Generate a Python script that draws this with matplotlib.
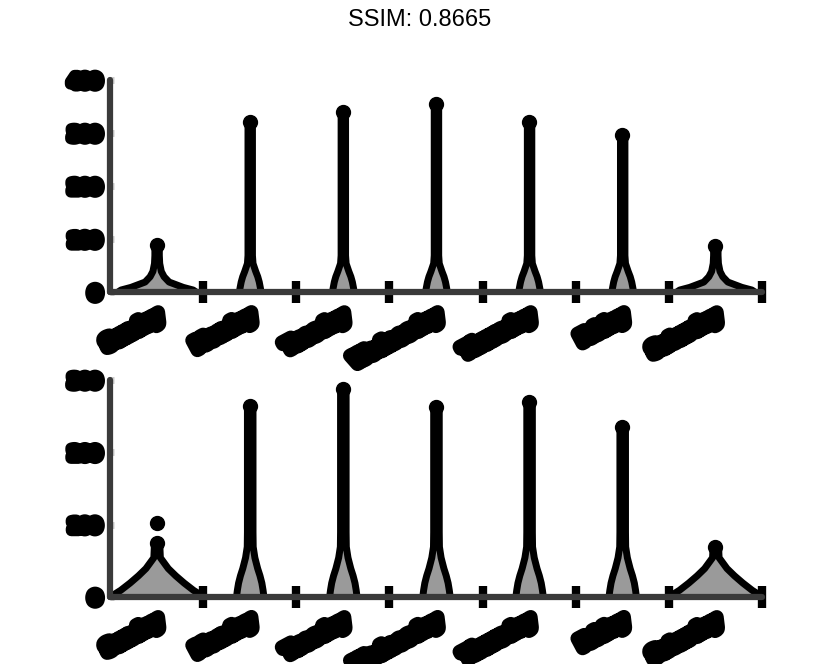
import matplotlib
matplotlib.use('Agg')
import matplotlib.pyplot as plt
import matplotlib.patheffects as pe
from matplotlib.ticker import FixedLocator

# Categories and values
days = ['Sunday', 'Monday', 'Tuesday', 'Wednesday', 'Thursday', 'Friday', 'Saturday']
weekend = [True, False, False, False, False, False, True]

# density profile levels (data units) and half widths (category units)
levels = [0, 5, 10, 20, 30, 40, 55, 70, 90]
top_weekday_profile = [0.118, 0.113, 0.108, 0.097, 0.081, 0.059, 0.03, 0.024, 0.024]
top_weekend_profile = [0.43, 0.387, 0.28, 0.129, 0.075, 0.045, 0.028, 0.024, 0.024]
bottom_weekday_profile = [0.147, 0.143, 0.138, 0.125, 0.105, 0.08, 0.05, 0.032, 0.03]
bottom_weekend_profile = [0.473, 0.452, 0.39, 0.29, 0.2, 0.12, 0.035, 0.03, 0.03]
top_tail = 0.024
bottom_tail = 0.03

top_max = [88, 320, 340, 355, 320, 296, 87]
bottom_max = [75, 264, 287, 262, 269, 235, 69]
bottom_extra_day = [0]
bottom_extra_val = [103]

top_yticks = [0, 100, 200, 300, 400]
bottom_yticks = [0, 100, 200, 300]

title = 'SSIM: 0.8665'

fig = plt.figure(figsize=(8.4, 6.64), dpi=100)
ax1 = fig.add_axes([0.131, 0.560, 0.776, 0.3195])
ax2 = fig.add_axes([0.131, 0.1009, 0.776, 0.3268])

xblob = [pe.Stroke(linewidth=10, foreground='black'), pe.Normal()]
yblob = [pe.Stroke(linewidth=8, foreground='black'), pe.Normal()]


def make_stats(maxes, wd_prof, we_prof, tail):
    stats = []
    for i, m in enumerate(maxes):
        prof = we_prof if weekend[i] else wd_prof
        coords = [l for l in levels if l < m] + [m]
        vals = [prof[j] for j, l in enumerate(levels) if l < m] + [tail]
        stats.append({'coords': coords, 'vals': vals, 'mean': 0, 'median': 0,
                      'min': 0, 'max': m})
    return stats


def draw(ax, maxes, wd_prof, we_prof, tail, ylim, yticks):
    stats = make_stats(maxes, wd_prof, we_prof, tail)
    widths = [2 * max(s['vals']) for s in stats]
    parts = ax.violin(stats, positions=range(len(days)), widths=widths,
                      showmeans=False, showextrema=False)
    for body in parts['bodies']:
        body.set_facecolor('#9a9a9a')
        body.set_edgecolor('black')
        body.set_linewidth(5)
        body.set_alpha(1)
        body.set_joinstyle('round')
    ax.scatter(range(len(days)), maxes, s=100, color='black', zorder=3)
    ax.set_xlim(-0.5, 6.5)
    ax.set_ylim(*ylim)
    ax.set_yticks(yticks)
    ax.set_yticklabels([str(t) for t in yticks], fontsize=10.5, fontweight='bold')
    ax.set_xticks(range(len(days)))
    ax.set_xticklabels(days, rotation=28, ha='right', rotation_mode='anchor',
                       fontsize=11, fontweight='bold')
    ax.xaxis.set_minor_locator(FixedLocator([i + 0.5 for i in range(7)]))
    ax.tick_params(axis='x', which='major', length=0, pad=12)
    ax.tick_params(axis='x', which='minor', direction='inout', length=16,
                   width=6, color='black')
    ax.tick_params(axis='y', direction='in', length=3, width=5,
                   color='#cccccc', pad=7)
    for lab in ax.get_xticklabels():
        lab.set_path_effects(xblob)
    for lab in ax.get_yticklabels():
        lab.set_path_effects(yblob)
    for side in ['top', 'right']:
        ax.spines[side].set_visible(False)
    for side in ['left', 'bottom']:
        ax.spines[side].set_linewidth(4.5)
        ax.spines[side].set_color('#3a3a3a')
        ax.spines[side].set_capstyle('round')
    ax.set_facecolor('white')


draw(ax1, top_max, top_weekday_profile, top_weekend_profile, top_tail,
     (0, 400), top_yticks)
draw(ax2, bottom_max, bottom_weekday_profile, bottom_weekend_profile, bottom_tail,
     (0, 300), bottom_yticks)
ax2.scatter(bottom_extra_day, bottom_extra_val, s=100, color='black', zorder=3)

fig.text(0.5, 1 - 20 / 664, title, ha='center', va='center', fontsize=17,
         family='Liberation Sans')

fig.savefig('out.png', dpi=100)
